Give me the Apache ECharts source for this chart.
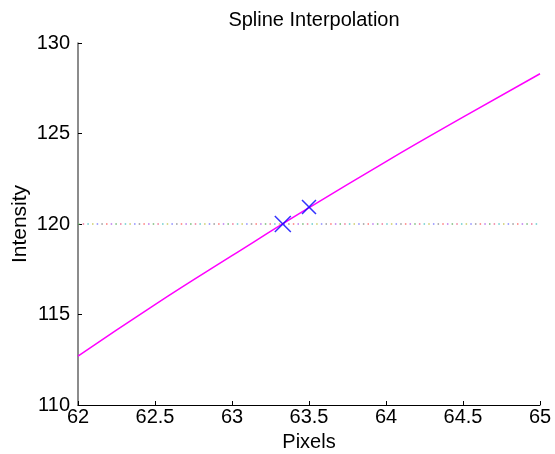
<!DOCTYPE html>
<html><head><meta charset="utf-8">
<script src="https://cdn.jsdelivr.net/npm/echarts@6/dist/echarts.min.js"></script>
<style>html,body{margin:0;padding:0;background:#fff}#c{width:555px;height:454px}</style>
</head><body><div id="c"></div>
<script>
var splineX = [62, 62.5, 63, 63.5, 64, 64.5, 65];
var splineY = [112.7, 115.55, 118.25, 120.9, 123.45, 125.9, 128.3];
var levelX = [62, 65];
var levelY = [120, 120];
var markX = [63.33, 63.5];
var markY = [120, 120.94];
var markSize = [16, 14];
var xTicks = [62, 62.5, 63, 63.5, 64, 64.5, 65];
var yTicks = [110, 115, 120, 125, 130];

var dotColors = ['#77bb77', '#ee7799', '#66cccc', '#cccc66', '#8888ff', '#999999', '#ff7777', '#bb77ee'];
var FONT = 'Liberation Sans';
var series = [];
var step = 4.67, period = step * dotColors.length;
dotColors.forEach(function (c, i) {
  series.push({
    type: 'line', data: levelX.map(function (x, k) { return [x, levelY[k]]; }),
    symbol: 'none', silent: true, z: 1,
    lineStyle: { color: c, width: 1.5, type: [1.5, period - 1.5], dashOffset: -i * step }
  });
});
series.push({
  type: 'line', data: splineX.map(function (x, k) { return [x, splineY[k]]; }),
  smooth: true, symbol: 'none', z: 3,
  lineStyle: { color: '#ff00ff', width: 1.5 }
});
series.push({
  type: 'scatter', z: 4,
  data: markX.map(function (x, k) { return { value: [x, markY[k]], symbolSize: markSize[k] }; }),
  symbol: 'path://M0,0L10,10M10,0L0,10',
  itemStyle: { color: 'rgba(0,0,0,0)', borderColor: '#0000ff', borderWidth: 1.5 }
});

var chart = echarts.init(document.getElementById('c'), null, { renderer: 'canvas' });
chart.setOption({
  animation: false,
  backgroundColor: '#fff',
  title: { text: 'Spline Interpolation', left: 309, textAlign: 'center', top: 5,
    textStyle: { fontFamily: FONT, fontSize: 20, fontWeight: 'normal', color: '#000' } },
  grid: { left: 78, right: 15, top: 43, bottom: 49, containLabel: false, outerBoundsMode: 'none' },
  xAxis: {
    type: 'value', min: 62, max: 65, interval: 0.5,
    name: 'Pixels', nameLocation: 'middle', nameGap: 27, nameMoveOverlap: false,
    nameTextStyle: { fontFamily: FONT, fontSize: 20, color: '#000' },
    axisLine: { show: true, lineStyle: { color: '#000', width: 1 } },
    axisTick: { show: true, inside: true, length: 4, lineStyle: { color: '#000' } },
    axisLabel: { fontFamily: FONT, fontSize: 20, color: '#000', margin: 2,
      formatter: function (v) { return xTicks.indexOf(v) >= 0 ? String(v) : ''; } },
    splitLine: { show: false }
  },
  yAxis: {
    type: 'value', min: 110, max: 130, interval: 5,
    name: 'Intensity', nameLocation: 'middle', nameGap: 47, nameRotate: 90, nameMoveOverlap: false,
    nameTextStyle: { fontFamily: FONT, fontSize: 21, color: '#000' },
    axisLine: { show: true, lineStyle: { color: '#666', width: 1.5 } },
    axisTick: { show: true, inside: true, length: 4, lineStyle: { color: '#000' } },
    axisLabel: { fontFamily: FONT, fontSize: 20, color: '#000', margin: 8,
      formatter: function (v) { return yTicks.indexOf(v) >= 0 ? String(v) : ''; } },
    splitLine: { show: false }
  },
  series: series
});
</script></body></html>
